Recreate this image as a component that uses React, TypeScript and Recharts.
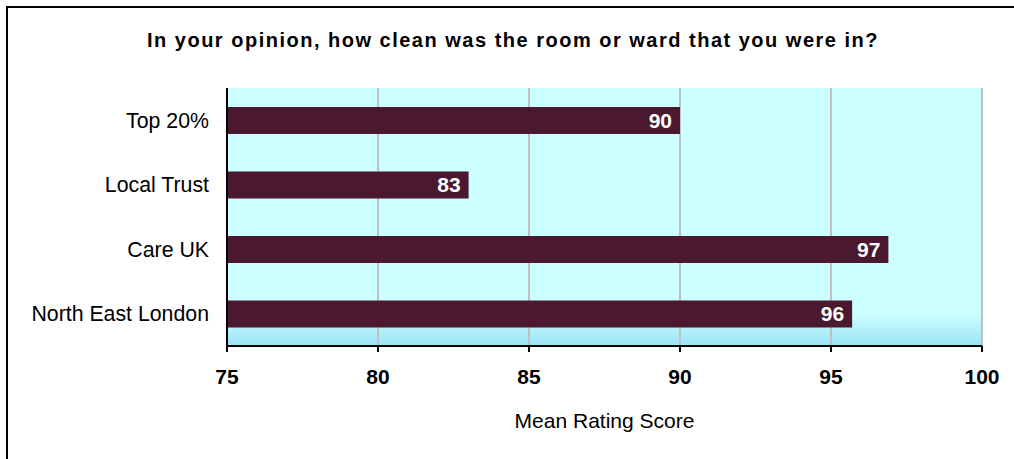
import { BarChart, Bar, XAxis, YAxis, CartesianGrid, LabelList } from 'recharts'

const categories = ['Top 20%', 'Local Trust', 'Care UK', 'North East London']
const scores = [90, 83, 96.9, 95.7]
const xTicks = [75, 80, 85, 90, 95, 100]

const data = categories.map((name, i) => ({ name, score: scores[i] }))

const FONT = 'Arial, "Liberation Sans", sans-serif'

export default function App() {
  return (
    <div style={{ position: 'absolute', left: 0, top: 0, width: 1014, height: 459, background: '#fff', fontFamily: FONT }}>
      {/* frame */}
      <div
        style={{
          position: 'absolute',
          left: 6,
          top: 6,
          width: 1010,
          height: 460,
          borderTop: '2px solid #000',
          borderLeft: '2px solid #000',
        }}
      />
      <div
        style={{
          position: 'absolute',
          left: 0,
          width: 1026,
          top: 29,
          textAlign: 'center',
          fontSize: 20,
          letterSpacing: 1.5,
          fontWeight: 'bold',
          color: '#000',
        }}
      >
        In your opinion, how clean was the room or ward that you were in?
      </div>
      <div style={{ position: 'absolute', left: 0, top: 0 }}>
        <BarChart
          width={1014}
          height={459}
          data={data}
          layout="vertical"
          margin={{ top: 88, right: 32, bottom: 28, left: 0 }}
        >
          <defs>
            <linearGradient id="plotBg" x1="0" y1="0" x2="0" y2="1">
              <stop offset="0%" stopColor="#CCFFFF" />
              <stop offset="88%" stopColor="#CCFFFF" />
              <stop offset="100%" stopColor="#99E2F6" />
            </linearGradient>
          </defs>
          <CartesianGrid
            horizontal={false}
            stroke="#C0C0C0"
            strokeWidth={2}
            fill="url(#plotBg)"
            fillOpacity={1}
          />
          <XAxis
            type="number"
            domain={[75, 100]}
            ticks={xTicks}
            allowDataOverflow
            height={85}
            axisLine={{ stroke: '#000', strokeWidth: 2 }}
            tickLine={{ stroke: '#000', strokeWidth: 2 }}
            tickSize={6}
            tickMargin={17}
            tick={{ fill: '#000', fontSize: 21, fontWeight: 'bold', fontFamily: FONT }}
            label={{
              value: 'Mean Rating Score',
              position: 'insideBottom',
              offset: 3,
              fill: '#000',
              fontSize: 21,
              fontFamily: FONT,
            }}
          />
          <YAxis
            type="category"
            dataKey="name"
            width={227}
            axisLine={{ stroke: '#000', strokeWidth: 2 }}
            tickLine={false}
            tickMargin={12}
            tick={{ fill: '#000', fontSize: 21.3, fontFamily: FONT }}
          />
          <Bar dataKey="score" fill="#4A1930" barSize={27} isAnimationActive={false}>
            <LabelList
              dataKey="score"
              position="insideRight"
              offset={8}
              formatter={(v: number) => Math.round(v)}
              fill="#fff"
              fontSize={21}
              fontWeight="bold"
              fontFamily={FONT}
            />
          </Bar>
        </BarChart>
      </div>
    </div>
  )
}
